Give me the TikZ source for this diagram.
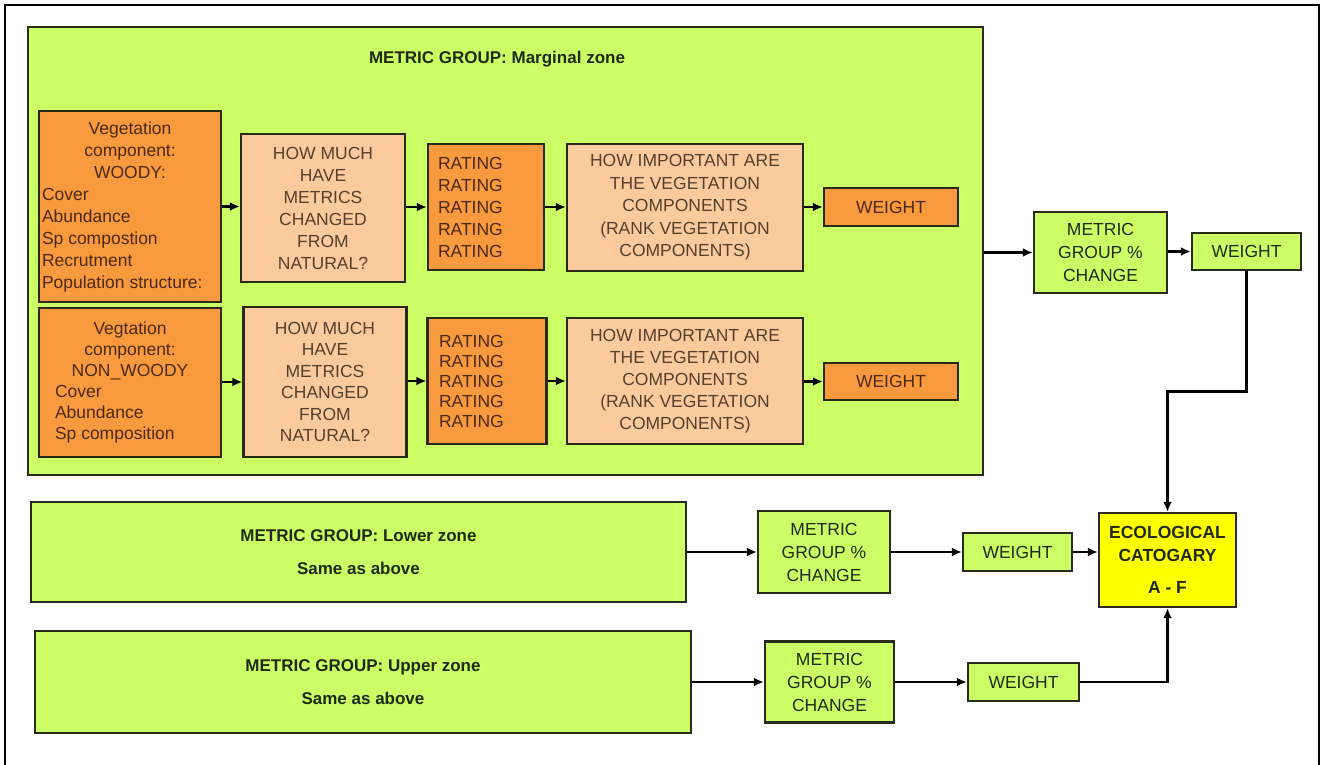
\documentclass[tikz,border=0pt]{standalone}
\usepackage{fontspec}
\setmainfont{Liberation Sans}
\usetikzlibrary{arrows.meta}
\definecolor{lime}{HTML}{CCFF66}
\definecolor{orng}{HTML}{F99A3E}
\definecolor{peach}{HTML}{FBCB9E}
\definecolor{yel}{HTML}{FFFF00}
\definecolor{edge}{HTML}{2A2A1A}
\definecolor{gtext}{HTML}{1E2A0A}
\definecolor{btext}{HTML}{4A2A10}
\definecolor{ptext}{HTML}{55402E}
\begin{document}
\begin{tikzpicture}[x=1pt,y=-1pt,
 box/.style={draw=edge, line width=2.4pt, inner sep=0pt, align=center, font=\fontsize{17.5}{22}\selectfont},
 gbox/.style={box, fill=lime, text=gtext},
 obox/.style={box, fill=orng, text=btext},
 pbox/.style={box, fill=peach, text=ptext},
 ybox/.style={box, fill=yel, text=gtext, font=\bfseries\fontsize{17.5}{23}\selectfont},
 zone/.style={gbox, line width=2pt, font=\bfseries\fontsize{17}{33}\selectfont},
 ttl/.style={text=gtext, font=\bfseries\fontsize{17}{20}\selectfont, inner sep=0pt},
 arr/.style={draw=black, line width=2.8pt, -{Latex[length=10pt,width=9pt]}},
 sz/.style 2 args={minimum width=#1, minimum height=#2}]
\useasboundingbox (0,0) rectangle (1323,764);
\fill[white] (0,0) rectangle (1323,764);
\draw[line width=1.6pt, black] (5,780) -- (5,5) -- (1319,5) -- (1319,780);

% marginal zone group
\node[gbox, line width=2pt, sz={955pt}{448pt}] (marg) at (505.5,251) {};
\node[ttl] (margt) at (497,59) {METRIC GROUP: Marginal zone};

% woody row
\node[obox, sz={182pt}{191pt}] (woody) at (130,206.5)
 {\parbox{176pt}{\centering Vegetation\\component:\\WOODY:\par\raggedright Cover\\Abundance\\Sp compostion\\Recrutment\\Population structure:}};
\node[pbox, sz={164pt}{148pt}] (hm1) at (323,208) {HOW MUCH\\HAVE\\METRICS\\CHANGED\\FROM\\NATURAL?};
\node[obox, sz={116pt}{126pt}] (rat1) at (486,207) {\parbox{96pt}{RATING\\RATING\\RATING\\RATING\\RATING}};
\node[pbox, sz={236pt}{127pt}, font=\fontsize{17.5}{22.5}\selectfont] (hi1) at (685,207.5) {HOW IMPORTANT ARE\\THE VEGETATION\\COMPONENTS\\(RANK VEGETATION\\COMPONENTS)};
\node[obox, sz={134pt}{38pt}] (w1) at (891,207) {WEIGHT};

% non-woody row
\node[obox, sz={182pt}{149pt}, font=\fontsize{17.5}{21}\selectfont] (nonw) at (130,382.5)
 {\parbox{176pt}{\centering Vegtation\\component:\\NON\_WOODY\par\raggedright\leftskip=13pt Cover\\Abundance\\Sp composition}};
\node[pbox, sz={163pt}{150pt}, font=\fontsize{17.5}{21.5}\selectfont] (hm2) at (325,382) {HOW MUCH\\HAVE\\METRICS\\CHANGED\\FROM\\NATURAL?};
\node[obox, sz={119pt}{126pt}, font=\fontsize{17.5}{20}\selectfont] (rat2) at (487,381) {\parbox{96pt}{RATING\\RATING\\RATING\\RATING\\RATING}};
\node[pbox, sz={236pt}{126pt}] (hi2) at (685,381) {HOW IMPORTANT ARE\\THE VEGETATION\\COMPONENTS\\(RANK VEGETATION\\COMPONENTS)};
\node[obox, sz={134pt}{37pt}] (w2) at (891,381.5) {WEIGHT};

% right column
\node[gbox, sz={133pt}{81pt}, font=\fontsize{17.5}{23}\selectfont] (mg1) at (1100.5,252.5) {METRIC\\GROUP \%\\CHANGE};
\node[gbox, sz={109pt}{37pt}] (wt1) at (1246.5,251.5) {WEIGHT};
\node[ybox, sz={137pt}{94pt}] (eco) at (1167.5,560) {ECOLOGICAL\\CATOGARY\\[9pt]A - F};

% lower zone
\node[zone, sz={655pt}{100pt}] (low) at (358.5,552) {METRIC GROUP: Lower zone\\Same as above};
\node[gbox, sz={132pt}{82pt}, font=\fontsize{17.5}{23}\selectfont] (mg2) at (824,552) {METRIC\\GROUP \%\\CHANGE};
\node[gbox, sz={109pt}{38pt}] (wt2) at (1017.5,552) {WEIGHT};

% upper zone
\node[zone, sz={656pt}{102pt}] (up) at (363,682) {METRIC GROUP: Upper zone\\Same as above};
\node[gbox, sz={129pt}{81pt}, font=\fontsize{17.5}{23}\selectfont] (mg3) at (829.5,682) {METRIC\\GROUP \%\\CHANGE};
\node[gbox, sz={111pt}{38pt}] (wt3) at (1023.5,682) {WEIGHT};

% arrows, marginal zone
\draw[arr] (woody.east) -- (woody.east -| hm1.west);
\draw[arr] (hm1.east |- rat1.west) -- (rat1.west);
\draw[arr] (rat1.east) -- (rat1.east -| hi1.west);
\draw[arr] (hi1.east |- w1.west) -- (w1.west);
\draw[arr] (nonw.east |- hm2.west) -- (hm2.west);
\draw[arr] (hm2.east |- rat2.west) -- (rat2.west);
\draw[arr] (rat2.east) -- (rat2.east -| hi2.west);
\draw[arr] (hi2.east |- w2.west) -- (w2.west);

% arrows, right side
\draw[arr] (marg.east |- mg1.west) -- (mg1.west);
\draw[arr] (mg1.east |- wt1.west) -- (wt1.west);
\draw[arr] (wt1.south) -- ++(0,120) -| (eco.north);
\draw[arr] (low.east) -- (low.east -| mg2.west);
\draw[arr] (mg2.east) -- (mg2.east -| wt2.west);
\draw[arr] (wt2.east) -- (wt2.east -| eco.west);
\draw[arr] (up.east) -- (up.east -| mg3.west);
\draw[arr] (mg3.east) -- (mg3.east -| wt3.west);
\draw[arr] (wt3.east) -| (eco.south);
\end{tikzpicture}
\end{document}
